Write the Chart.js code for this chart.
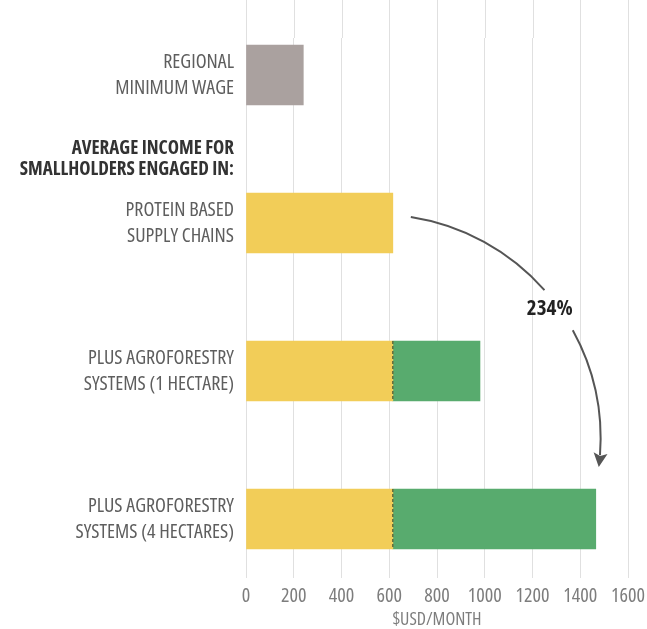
<!DOCTYPE html>
<html>
<head>
<meta charset="utf-8">
<title>Smallholder income</title>
<script src="https://cdn.jsdelivr.net/npm/chart.js@4.4.1/dist/chart.umd.min.js"></script>
<style>
    html, body { margin: 0; padding: 0; background: #fff; }
    #wrap { width: 647px; height: 629px; }
</style>
</head>
<body>
<div id="wrap"><canvas id="chart"></canvas></div>
<script>
"use strict";

// Rows top to bottom, blank strings are spacer rows
// (heading starts with an empty line so it sits a little lower)
const categories = [
    ["REGIONAL", "MINIMUM WAGE"],
    ["", "AVERAGE INCOME FOR", "SMALLHOLDERS ENGAGED IN:"],
    ["PROTEIN BASED", "SUPPLY CHAINS"],
    "",
    ["PLUS AGROFORESTRY", "SYSTEMS (1 HECTARE)"],
    "",
    ["PLUS AGROFORESTRY", "SYSTEMS (4 HECTARES)"]
];
const headingRow = 1;

// $USD / month
const baseIncome = [240, null, 615, null, 615, null, 615];
const agroforestryIncome = [null, null, null, null, 365, null, 850];

const xMin = 0;
const xMax = 1600;
const xStep = 200;
const xTitle = "$USD/MONTH";

// arrow goes from the protein row to the 4 hectare row
const arrowFrom = 2;
const arrowTo = 6;
const increaseLabel = "234%";

const FONT = "'Open Sans', 'DejaVu Sans Condensed', sans-serif";
const COND = "condensed";              // goes into the font shorthand, picks the narrow face
const gray = "#aaa19f";
const yellow = "#f2cd58";
const green = "#58ab6e";
const gridColor = "#e0e0e0";
const labelColor = "#5e5e5e";
const tickColor = "#7d7d7d";

// Grid lines run up to the top edge of the picture
const gridTop = {
    id: "gridTop",
    beforeDatasetsDraw(chart) {
        const { ctx, chartArea, scales: { x } } = chart;
        ctx.save();
        ctx.strokeStyle = gridColor;
        ctx.lineWidth = 1;
        x.ticks.forEach(t => {
            const px = Math.round(x.getPixelForValue(t.value)) + 0.5;
            ctx.beginPath();
            ctx.moveTo(px, 0);
            ctx.lineTo(px, chartArea.top);
            ctx.stroke();
        });
        ctx.restore();
    }
};

// Dashed line where the agroforestry part starts
const splitLine = {
    id: "splitLine",
    afterDatasetsDraw(chart) {
        const ctx = chart.ctx;
        ctx.save();
        ctx.strokeStyle = "#5d6b3c";
        ctx.lineWidth = 1.5;
        ctx.setLineDash([3, 2]);
        chart.getDatasetMeta(1).data.forEach((bar, i) => {
            if (agroforestryIncome[i] == null) return;
            const { base, y, height } = bar.getProps(["base", "y", "height"], true);
            ctx.beginPath();
            ctx.moveTo(base, y - height / 2);
            ctx.lineTo(base, y + height / 2);
            ctx.stroke();
        });
        ctx.restore();
    }
};

// Curved arrow with the increase label sitting in a gap of the arc
const increaseArrow = {
    id: "increaseArrow",
    afterDraw(chart) {
        const ctx = chart.ctx;
        const from = chart.getDatasetMeta(0).data[arrowFrom];
        const to = chart.getDatasetMeta(1).data[arrowTo];
        const sx = from.x + 18, sy = from.y - 6;
        const ex = to.x + 3, ey = to.y - to.height / 2 - 22;

        // circle through both ends, bulging to the right
        const r = 224;
        const mx = (sx + ex) / 2, my = (sy + ey) / 2;
        const dx = ex - sx, dy = ey - sy;
        const chord = Math.hypot(dx, dy);
        const h = Math.sqrt(Math.max(r * r - (chord / 2) ** 2, 0));
        const cx = mx - dy / chord * h, cy = my + dx / chord * h;
        const a0 = Math.atan2(sy - cy, sx - cx);
        const a1 = Math.atan2(ey - cy, ex - cx);
        const mid = a0 + (a1 - a0) * 0.52;
        const gap = 0.11;
        const head = 14, headW = 7;

        ctx.save();
        ctx.strokeStyle = "#555";
        ctx.fillStyle = "#555";
        ctx.lineWidth = 2;
        ctx.beginPath();
        ctx.arc(cx, cy, r, a0, mid - gap);
        ctx.stroke();
        ctx.beginPath();
        ctx.arc(cx, cy, r, mid + gap, a1 - (head - 2) / r);
        ctx.stroke();

        const ux = -Math.sin(a1), uy = Math.cos(a1);
        const bx = ex - ux * head, by = ey - uy * head;
        ctx.beginPath();
        ctx.moveTo(ex, ey);
        ctx.lineTo(bx - uy * headW, by + ux * headW);
        ctx.lineTo(bx + ux * 3, by + uy * 3);
        ctx.lineTo(bx + uy * headW, by - ux * headW);
        ctx.closePath();
        ctx.fill();

        ctx.font = "bold condensed 21px " + FONT;
        ctx.fillStyle = "#222";
        ctx.textAlign = "center";
        ctx.textBaseline = "middle";
        ctx.fillText(increaseLabel, cx + r * Math.cos(mid) - 10, cy + r * Math.sin(mid));
        ctx.restore();
    }
};

new Chart(document.getElementById("chart"), {
    type: "bar",
    data: {
        labels: categories,
        datasets: [
            {
                label: "Base income",
                data: baseIncome,
                backgroundColor: ctx => ctx.dataIndex === 0 ? gray : yellow,
                barThickness: 60,
                borderWidth: 0
            },
            {
                label: "Agroforestry",
                data: agroforestryIncome,
                backgroundColor: green,
                barThickness: 60,
                borderWidth: 0
            }
        ]
    },
    options: {
        indexAxis: "y",
        responsive: true,
        maintainAspectRatio: false,
        animation: false,
        layout: { padding: { top: 34, right: 0, bottom: 0, left: 0 } },
        plugins: {
            legend: { display: false },
            tooltip: { enabled: false }
        },
        scales: {
            x: {
                stacked: true,
                min: xMin,
                max: xMax,
                border: { display: false },
                grid: { color: gridColor, tickColor: gridColor, tickLength: 22 },
                ticks: {
                    stepSize: xStep,
                    color: tickColor,
                    padding: 6,
                    maxRotation: 0,
                    callback: v => String(v),
                    font: { family: FONT, size: 20, weight: COND }
                },
                title: {
                    display: true,
                    text: xTitle,
                    color: tickColor,
                    padding: { top: 0, bottom: 0 },
                    font: { family: FONT, size: 18, weight: COND, lineHeight: 1 }
                },
                afterFit: scale => {
                    scale.height = 73;
                    scale.paddingRight = 19;     // room for the "1600" label only
                }
            },
            y: {
                stacked: true,
                border: { display: false },
                grid: { display: false, drawTicks: false },
                ticks: {
                    autoSkip: false,
                    padding: 12,
                    color: ctx => ctx.index === headingRow ? "#333" : labelColor,
                    font: ctx => ctx.index === headingRow
                        ? { family: FONT, size: 19, weight: "bold " + COND, lineHeight: 1.1 }
                        : { family: FONT, size: 20, weight: COND, lineHeight: 1.3 }
                },
                afterFit: scale => { scale.width = 246; }
            }
        }
    },
    plugins: [gridTop, splitLine, increaseArrow]
});
</script>
</body>
</html>
